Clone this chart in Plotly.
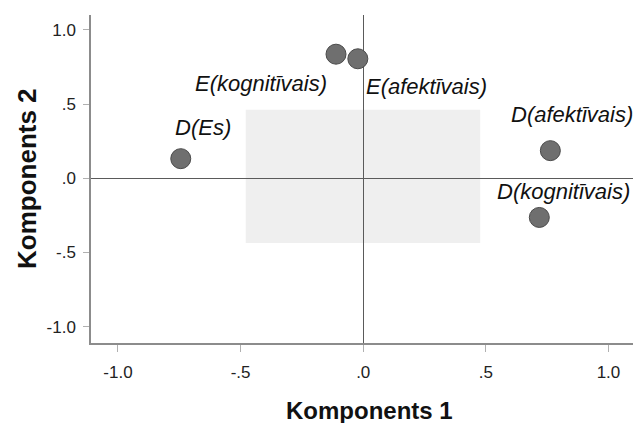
import plotly.graph_objects as go

# Data
labels = ["D(Es)", "E(kognitīvais)", "E(afektīvais)", "D(afektīvais)", "D(kognitīvais)"]
comp1 = [-0.744, -0.111, -0.022, 0.763, 0.718]
comp2 = [0.132, 0.836, 0.805, 0.186, -0.264]
tick_vals = [-1.0, -0.5, 0.0, 0.5, 1.0]
tick_text = ["-1.0", "-.5", ".0", ".5", "1.0"]

# label pixel offsets (style)
label_dx = [22, -75, 69, 22, 24]
label_dy = [31, -29, -28, 36, 26]

FONT = "Liberation Sans, Arial, sans-serif"

fig = go.Figure()

fig.add_trace(go.Scatter(
    x=comp1, y=comp2, mode="markers",
    marker=dict(size=20, color="#6f6f6f", line=dict(color="#4a4a4a", width=1)),
    hoverinfo="text", text=labels, showlegend=False,
))

annotations = []
for lab, x, y, dx, dy in zip(labels, comp1, comp2, label_dx, label_dy):
    annotations.append(dict(
        x=x, y=y, xref="x", yref="y", text=f"<i>{lab}</i>", showarrow=False,
        xshift=dx, yshift=dy, xanchor="center", yanchor="middle",
        font=dict(family=FONT, size=22, color="#111111"),
    ))

annotations.append(dict(
    x=0.514, y=0, xref="paper", yref="paper", text="<b>Komponents 1</b>",
    showarrow=False, yshift=-67, xanchor="center", yanchor="middle",
    font=dict(family=FONT, size=24, color="#111111"),
))
annotations.append(dict(
    x=0, y=0.5, xref="paper", yref="paper", text="<b>Komponents 2</b>",
    showarrow=False, xshift=-64, xanchor="center", yanchor="middle", textangle=-90,
    font=dict(family=FONT, size=26, color="#111111"),
))

fig.update_layout(
    width=633, height=423,
    margin=dict(l=91, r=0, t=15, b=80),
    paper_bgcolor="white", plot_bgcolor="white",
    annotations=annotations,
    shapes=[dict(type="rect", xref="x", yref="y", x0=-0.479, x1=0.477, y0=-0.437, y1=0.461,
                 fillcolor="#efefef", line=dict(width=0), layer="below")],
    xaxis=dict(
        range=[-1.11, 1.10], tickmode="array", tickvals=tick_vals, ticktext=tick_text,
        showgrid=False, zeroline=True, zerolinecolor="#5a5a5a", zerolinewidth=1,
        showline=True, linecolor="#8c8c8c", linewidth=1.5, mirror=False,
        ticks="outside", ticklen=7, tickcolor="#b0b0b0", tickwidth=1,
        ticklabelstandoff=6,
        tickfont=dict(family=FONT, size=17, color="#222222"),
    ),
    yaxis=dict(
        range=[-1.11, 1.10], tickmode="array", tickvals=tick_vals, ticktext=tick_text,
        showgrid=False, zeroline=True, zerolinecolor="#5a5a5a", zerolinewidth=1,
        showline=True, linecolor="#8c8c8c", linewidth=1.5, mirror=False,
        ticks="outside", ticklen=6, tickcolor="#b0b0b0", tickwidth=1,
        ticklabelstandoff=4,
        tickfont=dict(family=FONT, size=17, color="#222222"),
    ),
)

fig.write_html(
    "out.html",
    config={"displayModeBar": False},
    post_script="document.body.style.margin='0';document.body.style.overflow='hidden';",
)
